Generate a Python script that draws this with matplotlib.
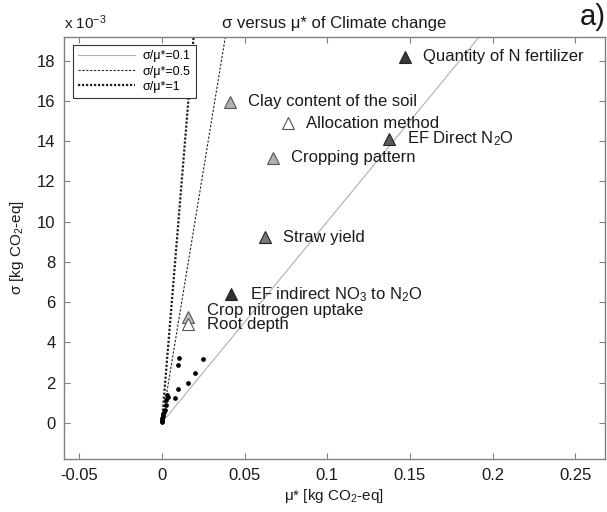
import numpy as np
import matplotlib
matplotlib.use("Agg")
import matplotlib.pyplot as plt
from matplotlib.ticker import FuncFormatter, FixedLocator

plt.rcParams['font.family'] = ['Liberation Sans', 'DejaVu Sans']
plt.rcParams['mathtext.fontset'] = 'custom'
plt.rcParams['mathtext.rm'] = 'Liberation Sans'
plt.rcParams['mathtext.it'] = 'Liberation Sans:italic'
plt.rcParams['mathtext.bf'] = 'Liberation Sans:bold'

# ---- data ----
labels = ["Quantity of N fertilizer", "Clay content of the soil", "Allocation method",
          "EF Direct N$_2$O", "Cropping pattern", "Straw yield",
          "EF indirect NO$_3$ to N$_2$O", "Crop nitrogen uptake", "Root depth"]
mu_star = [0.1471, 0.0412, 0.0763, 0.1371, 0.0674, 0.0622, 0.0421, 0.0161, 0.0161]
sigma = [0.01820, 0.01597, 0.01490, 0.01411, 0.01318, 0.00922, 0.00639, 0.00524, 0.00491]
fills = ["#3a3a3a", "#b0b0b0", "#ffffff", "#5a5a5a", "#b0b0b0", "#787878", "#303030", "#c0c0c0", "#ffffff"]

mu_other = [0.0102, 0.0096, 0.0247, 0.0201, 0.0161, 0.0096, 0.0036, 0.0078, 0.0031,
            0.0026, 0.0026, 0.0016, 0.0012, 0.0008, 0.0005, 0.0003, 0.0002, 0.0001, 0.0]
sigma_other = [0.00320, 0.00289, 0.00315, 0.00247, 0.00198, 0.00166, 0.00129, 0.00124, 0.00138,
               0.00113, 0.00087, 0.00063, 0.00052, 0.00042, 0.00032, 0.00024, 0.00016, 0.00009, 0.00004]

ratios = [0.1, 0.5, 1.0]
ratio_labels = ["σ/μ*=0.1", "σ/μ*=0.5", "σ/μ*=1"]

xticks = [-0.05, 0, 0.05, 0.1, 0.15, 0.2, 0.25]
yticks = [0, 0.002, 0.004, 0.006, 0.008, 0.010, 0.012, 0.014, 0.016, 0.018]

# ---- figure ----
fig = plt.figure(figsize=(6.07, 5.12), dpi=100)
ax = fig.add_axes([0.1054, 0.1029, 0.8913, 0.8254])

spine_col = "#808080"
text_col = "#1a1a1a"

mu_line = np.array([0.0, 0.3])
styles = [dict(color="#b0b0b0", lw=0.8, ls='-'),
          dict(color="#202020", lw=0.8, ls=(0, (2.0, 1.5))),
          dict(color="#202020", lw=1.6, ls=(0, (1.0, 0.8)))]
for r, lab, st in zip(ratios, ratio_labels, styles):
    ax.plot(mu_line, r * mu_line, label=lab, **st)

ax.plot(mu_other, sigma_other, ls='none', marker='o', ms=2.4, color='black', mec='black')

for m, s, f, lab in zip(mu_star, sigma, fills, labels):
    ec = "#555555" if f in ("#ffffff", "#b0b0b0", "#c0c0c0") else "#222222"
    ax.plot([m], [s], ls='none', marker='^', ms=8.5, mfc=f, mec=ec, mew=0.8, zorder=4)

offsets = {"Crop nitrogen uptake": (13, 5), "Root depth": (13, 0)}
for m, s, lab in zip(mu_star, sigma, labels):
    dx, dy = offsets.get(lab, (13, 0))
    ax.annotate(lab, (m, s), xytext=(dx, dy), textcoords='offset points',
                va='center', ha='left', fontsize=12, color=text_col, zorder=5)

ax.set_xlim(-0.0592, 0.268)
ax.set_ylim(-0.00182, 0.0192)
ax.xaxis.set_major_locator(FixedLocator(xticks))
ax.yaxis.set_major_locator(FixedLocator(yticks))
ax.xaxis.set_major_formatter(FuncFormatter(lambda v, p: f"{v:g}"))
ax.yaxis.set_major_formatter(FuncFormatter(lambda v, p: f"{round(v * 1000):d}"))

ax.tick_params(direction='in', length=4, width=0.8, color=spine_col, labelsize=12,
               labelcolor=text_col, top=True, right=True, pad=6)
for sp in ax.spines.values():
    sp.set_color(spine_col)
    sp.set_linewidth(1.0)

ax.set_xlabel("μ* [kg CO$_2$-eq]", fontsize=11, color=text_col, labelpad=3)
ax.set_ylabel("σ [kg CO$_2$-eq]", fontsize=11, color=text_col, labelpad=8)
ax.set_title("σ versus μ* of Climate change", fontsize=12, color=text_col, pad=6)
ax.text(0.0, 1.012, "x 10$^{-3}$", transform=ax.transAxes, fontsize=11,
        color=text_col, ha='left', va='bottom')
fig.text(0.998, 1 - 17 / 512, "a)", fontsize=21, color=text_col, va='center', ha='right')

leg = ax.legend(loc='upper left', fontsize=9, handlelength=4.6, fancybox=False,
                framealpha=1, edgecolor='#333333', borderaxespad=0.7,
                labelspacing=0.25, handletextpad=0.6, borderpad=0.4)
leg.get_frame().set_linewidth(0.8)

fig.savefig("out.png", dpi=100)
